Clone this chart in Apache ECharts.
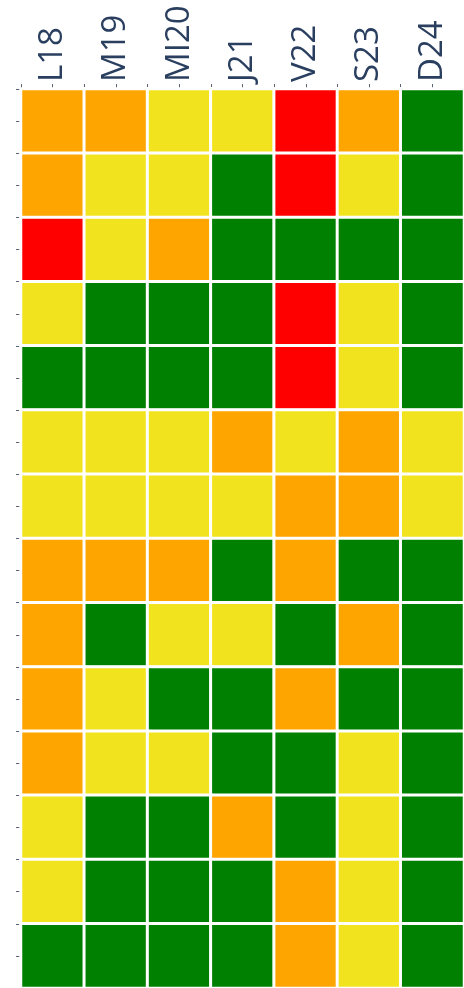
<!DOCTYPE html>
<html>
<head>
<meta charset="utf-8">
<script src="https://cdn.jsdelivr.net/npm/echarts@6/dist/echarts.min.js"></script>
<style>
  html, body { margin: 0; padding: 0; background: #fff; }
  #main { width: 464px; height: 988px; }
</style>
</head>
<body>
<div id="main"></div>
<script>
// columns (days) and rows
var days = ['L18', 'M19', 'MI20', 'J21', 'V22', 'S23', 'D24'];
var rows = ['r1', 'r2', 'r3', 'r4', 'r5', 'r6', 'r7', 'r8', 'r9', 'r10', 'r11', 'r12', 'r13', 'r14'];

// 0 = green, 1 = yellow, 2 = orange, 3 = red
var levels = [
  [2, 2, 1, 1, 3, 2, 0],
  [2, 1, 1, 0, 3, 1, 0],
  [3, 1, 2, 0, 0, 0, 0],
  [1, 0, 0, 0, 3, 1, 0],
  [0, 0, 0, 0, 3, 1, 0],
  [1, 1, 1, 2, 1, 2, 1],
  [1, 1, 1, 1, 2, 2, 1],
  [2, 2, 2, 0, 2, 0, 0],
  [2, 0, 1, 1, 0, 2, 0],
  [2, 1, 0, 0, 2, 0, 0],
  [2, 1, 1, 0, 0, 1, 0],
  [1, 0, 0, 2, 0, 1, 0],
  [1, 0, 0, 0, 2, 1, 0],
  [0, 0, 0, 0, 2, 1, 0]
];
var levelColors = ['#008000', '#f2e31f', '#ffa500', '#ff0000'];

var data = [];
levels.forEach(function (row, y) {
  row.forEach(function (v, x) {
    data.push([x, y, v]);
  });
});

var chart = echarts.init(document.getElementById('main'));
var axisColor = '#5a6472';
var line = { show: true, lineStyle: { color: axisColor, width: 1 } };

var option = {
  animation: false,
  grid: { left: 21, top: 89, width: 451.5, height: 903 },
  xAxis: [
    {
      type: 'category',
      position: 'top',
      data: days,
      axisLine: line,
      axisTick: { show: true, alignWithLabel: true, length: 5, lineStyle: { color: axisColor } },
      axisLabel: {
        rotate: -90,
        margin: 7,
        fontFamily: 'Open Sans',
        fontSize: 33,
        color: '#2a3f5f'
      },
      splitLine: { show: false }
    },
    {
      type: 'category',
      position: 'top',
      data: days,
      axisLine: line,
      axisTick: { show: true, length: 5, lineStyle: { color: axisColor } },
      axisLabel: { show: false }
    }
  ],
  yAxis: [
    {
      type: 'category',
      inverse: true,
      data: rows,
      axisLine: line,
      axisTick: { show: true, alignWithLabel: true, length: 5, lineStyle: { color: axisColor } },
      axisLabel: { show: false }
    },
    {
      type: 'category',
      inverse: true,
      position: 'left',
      data: rows,
      axisLine: line,
      axisTick: { show: true, length: 5, lineStyle: { color: axisColor } },
      axisLabel: { show: false }
    }
  ],
  visualMap: {
    show: false,
    type: 'piecewise',
    dimension: 2,
    pieces: [
      { value: 0, color: levelColors[0] },
      { value: 1, color: levelColors[1] },
      { value: 2, color: levelColors[2] },
      { value: 3, color: levelColors[3] }
    ]
  },
  series: [{
    type: 'heatmap',
    data: data,
    itemStyle: { borderColor: '#ffffff', borderWidth: 3 },
    emphasis: { disabled: true }
  }]
};
chart.setOption(option);
</script>
</body>
</html>
